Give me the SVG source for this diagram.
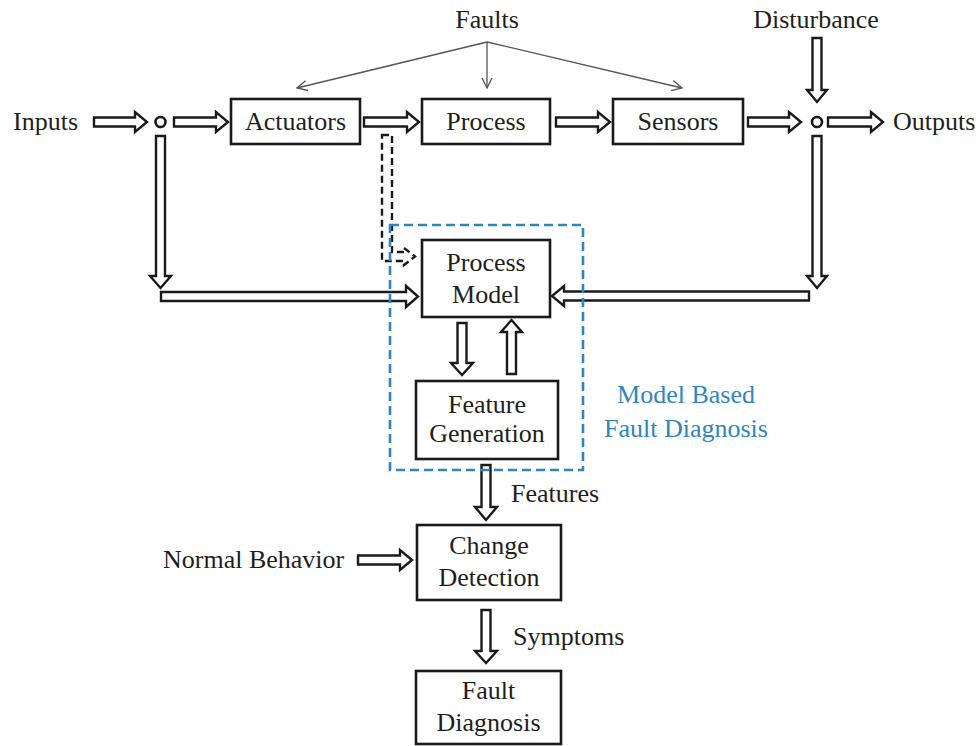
<svg xmlns="http://www.w3.org/2000/svg" width="980" height="746" viewBox="0 0 980 746">
  <style>
    .box { fill: #ffffff; stroke: #1a1a1a; stroke-width: 2.6; }
    .label { font-family: "Liberation Serif", "Times New Roman", serif; font-size: 26px; fill: #1e1e1e; }
    .mid { text-anchor: middle; }
    .blue { fill: #2f86bd; }
    .block { fill: #ffffff; stroke: #1a1a1a; stroke-width: 2.4; stroke-linejoin: miter; }
    .dashed-block { fill: none; stroke: #1a1a1a; stroke-width: 2.4; stroke-dasharray: 7 4; }
    .thin { fill: none; stroke: #555555; stroke-width: 1.3; marker-end: url(#open); }
    .node { fill: #ffffff; stroke: #1a1a1a; stroke-width: 2.6; }
    .frame { fill: none; stroke: #2f86bd; stroke-width: 2.6; stroke-dasharray: 9 5; }
  </style>
  <defs>
    <marker id="open" viewBox="0 0 12 12" refX="11" refY="6" markerWidth="12" markerHeight="12" markerUnits="userSpaceOnUse" orient="auto">
      <path d="M1,1 L11,6 L1,11" fill="none" stroke="#555555" stroke-width="1.3"/>
    </marker>
  </defs>

  <rect width="980" height="746" fill="#ffffff"/>

  <!-- connectors -->
  <g id="connectors">
    <!-- fault injection lines -->
    <path class="thin" d="M487,42 L297,88"/>
    <path class="thin" d="M487,42 L487,88"/>
    <path class="thin" d="M487,42 L682,88"/>

    <!-- main signal chain -->
    <path class="block" d="M94,117.5 H135 V112 L147,122 L135,132 V126.5 H94 Z"/>
    <path class="block" d="M174,117.5 H216 V112 L228,122 L216,132 V126.5 H174 Z"/>
    <path class="block" d="M364,117.5 H407 V112 L419,122 L407,132 V126.5 H364 Z"/>
    <path class="block" d="M556,117.5 H598 V112 L610,122 L598,132 V126.5 H556 Z"/>
    <path class="block" d="M748,117.5 H789 V112 L801,122 L789,132 V126.5 H748 Z"/>
    <path class="block" d="M828,117.5 H871 V112 L883,122 L871,132 V126.5 H828 Z"/>

    <!-- disturbance -->
    <path class="block" d="M812.5,38 H821.5 V90 H827 L817,102 L807,90 H812.5 Z"/>

    <!-- inputs to model -->
    <path class="block" d="M156,136 H165 V276 H171 L160.5,288 L150,276 H156 Z"/>
    <path class="block" d="M161,292 H406 V286 L418,296.5 L406,307 V301 H161 Z"/>

    <!-- outputs to model -->
    <path class="block" d="M812.5,136 H821.5 V276 H827 L817,288 L807,276 H812.5 Z"/>
    <path class="block" d="M809,291.5 H564 V286 L552,296 L564,306 V300.5 H809 Z"/>

    <!-- actuator signal into model -->
    <path class="dashed-block" d="M382,135 H392 V252 H404 V248 L415,256.5 L404,265 V261 H382 Z"/>

    <!-- model <-> feature generation -->
    <path class="block" d="M457.5,323 H466.5 V363 H473 L462,375 L451,363 H457.5 Z"/>
    <path class="block" d="M507,374 H516 V332 H522 L511.5,320 L501,332 H507 Z"/>

    <!-- features, normal behavior, symptoms -->
    <path class="block" d="M481.5,465 H490.5 V507 H497 L486,520 L475,507 H481.5 Z"/>
    <path class="block" d="M358,555.5 H400 V550 L412,560 L400,570 V564.5 H358 Z"/>
    <path class="block" d="M481.5,610 H490.5 V651 H497 L486,663 L475,651 H481.5 Z"/>
  </g>

  <!-- summing junctions -->
  <g id="junction-in">
    <circle class="node" cx="160.5" cy="122" r="5"/>
  </g>
  <g id="junction-out">
    <circle class="node" cx="817" cy="122" r="5"/>
  </g>

  <!-- free labels -->
  <g id="inputs"><text class="label" x="13" y="130">Inputs</text></g>
  <g id="outputs"><text class="label" x="893" y="130">Outputs</text></g>
  <g id="faults"><text class="label mid" x="487" y="28">Faults</text></g>
  <g id="disturbance"><text class="label mid" x="816" y="28">Disturbance</text></g>
  <g id="features"><text class="label" x="511" y="502">Features</text></g>
  <g id="symptoms"><text class="label" x="513" y="645">Symptoms</text></g>
  <g id="normal-behavior"><text class="label" x="163" y="568">Normal Behavior</text></g>

  <!-- plant blocks -->
  <g id="actuators">
    <rect class="box" x="231" y="99" width="129" height="45"/>
    <text class="label mid" x="295.5" y="130">Actuators</text>
  </g>
  <g id="process">
    <rect class="box" x="422" y="99" width="128" height="45"/>
    <text class="label mid" x="486" y="130">Process</text>
  </g>
  <g id="sensors">
    <rect class="box" x="613" y="99" width="130" height="45"/>
    <text class="label mid" x="678" y="130">Sensors</text>
  </g>

  <!-- diagnosis blocks -->
  <g id="process-model">
    <rect class="box" x="422" y="240" width="128" height="77"/>
    <text class="label mid" x="486" y="271">Process</text>
    <text class="label mid" x="486" y="303">Model</text>
  </g>
  <g id="feature-generation">
    <rect class="box" x="416" y="381" width="142" height="78"/>
    <text class="label mid" x="487" y="413">Feature</text>
    <text class="label mid" x="487" y="442">Generation</text>
  </g>
  <g id="change-detection">
    <rect class="box" x="417" y="525" width="144" height="75"/>
    <text class="label mid" x="489" y="554">Change</text>
    <text class="label mid" x="489" y="586">Detection</text>
  </g>
  <g id="fault-diagnosis">
    <rect class="box" x="416" y="671" width="145" height="73"/>
    <text class="label mid" x="488.5" y="699">Fault</text>
    <text class="label mid" x="488.5" y="731">Diagnosis</text>
  </g>

  <!-- model based fault diagnosis frame -->
  <g id="model-based">
    <rect class="frame" x="390" y="225" width="193" height="245"/>
    <text class="label mid blue" x="686" y="403">Model Based</text>
    <text class="label mid blue" x="686" y="437">Fault Diagnosis</text>
  </g>
</svg>
